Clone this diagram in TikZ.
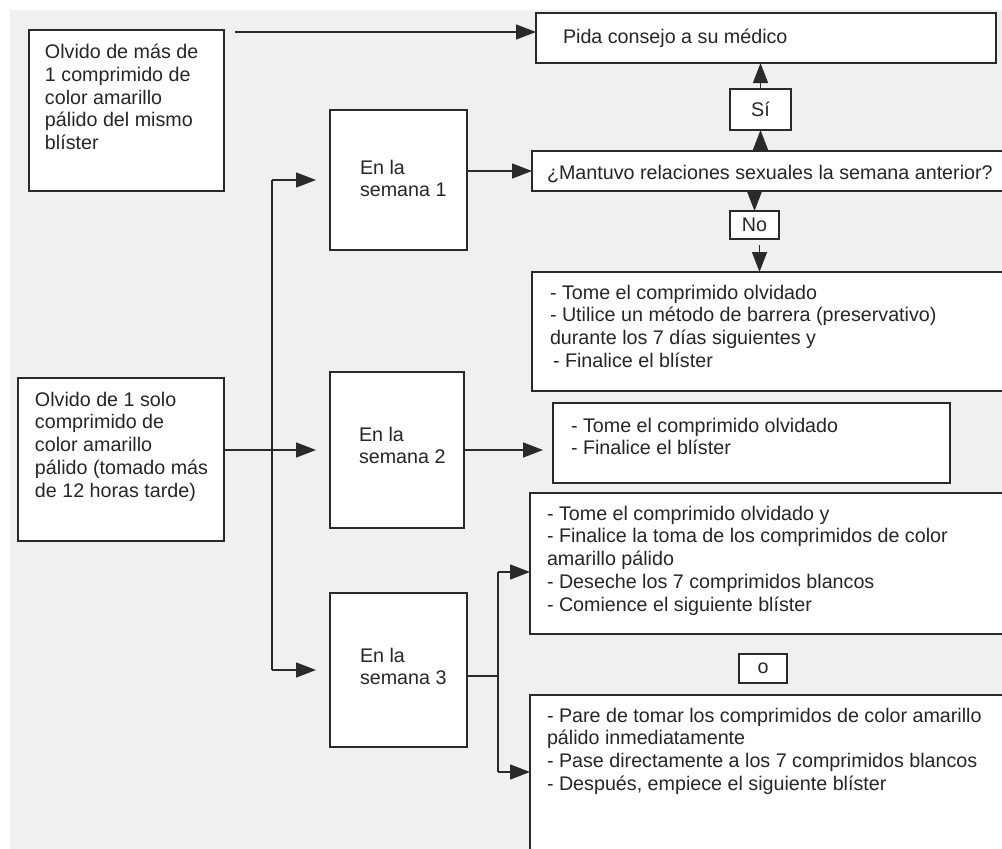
\documentclass[tikz,border=0pt]{standalone}
\usepackage{fontspec}
\setmainfont{Liberation Sans}
\usetikzlibrary{arrows.meta}
\definecolor{bgc}{HTML}{F0F0F0}
\definecolor{linec}{HTML}{2A2A2A}
\definecolor{txtc}{HTML}{262626}
\newcommand{\fs}{\fontsize{19.7pt}{22.8pt}\selectfont}
\newcommand{\bx}[5]{\parbox[c][#2][t]{#1}{\raggedright\leftskip=#3\relax\rule{0pt}{#4}#5}}
\tikzset{
  box/.style={draw=linec, fill=white, line width=1.5pt, inner sep=0pt, outer sep=0pt, anchor=north west, font=\fs, text=txtc},
  tag/.style={draw=linec, fill=white, line width=1.5pt, inner sep=0pt, outer sep=0pt, anchor=center, font=\fs, text=txtc},
  conn/.style={draw=linec, line width=1.4pt},
  arr/.style={conn, -{Triangle[length=20pt,width=15pt]}},
}
\begin{document}
\begin{tikzpicture}[x=1pt,y=-1pt]
\clip (0,0) rectangle (1002,849);
\fill[white] (0,0) rectangle (1002,849);
\fill[bgc] (10,10) rectangle (1004,851);

% left column
\node[box] (A) at (29,30) {\bx{195pt}{161pt}{16pt}{28.5pt}{Olvido de más de\\1 comprimido de\\color amarillo\\pálido del mismo\\blíster}};
\node[box] (A2) at (18,378) {\bx{206pt}{163pt}{17pt}{28pt}{Olvido de 1 solo\\comprimido de\\color amarillo\\pálido (tomado más\\de 12 horas tarde)}};

% week boxes
\node[box] (s1) at (330,110) {\bx{137pt}{140pt}{30pt}{64pt}{En la\\semana 1}};
\node[box] (s2) at (330,372) {\bx{134pt}{156pt}{29pt}{69pt}{En la\\semana 2}};
\node[box] (s3) at (330,593) {\bx{137pt}{154pt}{30pt}{69pt}{En la\\semana 3}};

% right column
\node[box] (P) at (536,13) {\bx{460pt}{50pt}{27pt}{30pt}{Pida consejo a su médico}};
\node[tag, minimum width=61pt, minimum height=41pt] (Si) at (760.5,109.5) {Sí};
\node[box] (Q) at (532,151) {\bx{472pt}{40pt}{15pt}{28pt}{¿Mantuvo relaciones sexuales la semana anterior?}};
\node[tag, minimum width=49pt, minimum height=28pt] (No) at (754.5,225) {No};
\node[box] (B1) at (532,272) {\bx{474pt}{119pt}{18pt}{27pt}{- Tome el comprimido olvidado\\- Utilice un método de barrera (preservativo)\\durante los 7 días siguientes y\\\hspace*{3pt}- Finalice el blíster}};
\node[box] (B2) at (553,403) {\bx{397pt}{80pt}{18pt}{29pt}{- Tome el comprimido olvidado\\- Finalice el blíster}};
\node[box] (B3) at (530,493) {\bx{476pt}{141pt}{17pt}{27pt}{- Tome el comprimido olvidado y\\- Finalice la toma de los comprimidos de color\\amarillo pálido\\- Deseche los 7 comprimidos blancos\\- Comience el siguiente blíster}};
\node[tag, minimum width=48pt, minimum height=29pt] (O) at (763,668.5) {o};
\node[box] (B4) at (530,695) {\bx{476pt}{170pt}{17pt}{27pt}{- Pare de tomar los comprimidos de color amarillo\\pálido inmediatamente\\- Pase directamente a los 7 comprimidos blancos\\- Después, empiece el siguiente blíster}};

% connectors
\draw[arr] ([xshift=11pt,yshift=-2pt]A.north east) -- ([yshift=-2pt]A.north east -| P.west);

\coordinate (jx) at (272,0);
\draw[arr, shorten >=14pt] (A2.east |- s2.west) -- (s2.west);
\draw[conn] (jx |- s1.west) -- (jx |- s3.west);
\draw[arr, shorten >=14pt] (jx |- s1.west) -- (s1.west);
\draw[arr, shorten >=14pt] (jx |- s3.west) -- (s3.west);

\draw[arr] (s1.east |- Q.west) -- (Q.west);
\draw[arr] (Si.south |- Q.north) -- (Si.south);
\draw[arr] (Si.north) -- (Si.north |- P.south);
\draw[arr] (No.north |- Q.south) -- (No.north);
\draw[arr] ([xshift=5pt,yshift=-6pt]No.south) -- ([xshift=5pt]No.south |- B1.north);

\draw[arr, shorten >=10pt] (s2.east) -- (s2.east -| B2.west);

\coordinate (jt) at (498,676);
\coordinate (b3in) at (498,572);
\coordinate (b4in) at (498,772);
\draw[conn] (s3.east |- jt) -- (jt);
\draw[conn] (b3in) -- (b4in);
\draw[arr] (b3in) -- (b3in -| B3.west);
\draw[arr] (b4in) -- (b4in -| B4.west);
\end{tikzpicture}
\end{document}
